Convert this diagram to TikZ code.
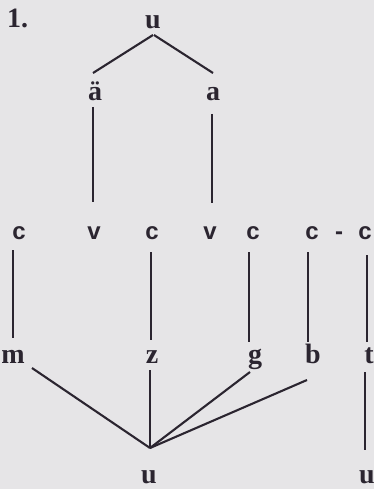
\documentclass[tikz,border=0pt]{standalone}
\usepackage{fontspec}
\setmainfont{Liberation Serif}
\newfontfamily\labsans{Liberation Sans}
\definecolor{paper}{HTML}{E6E5E7}
\definecolor{ink}{HTML}{2B2530}
\begin{document}
\begin{tikzpicture}[x=1pt,y=-1pt,
  ser/.style={anchor=base,inner sep=0pt,text=ink,font=\bfseries\fontsize{28}{30}\selectfont},
  sans/.style={anchor=base,inner sep=0pt,text=ink,font=\labsans\bfseries\fontsize{24}{26}\selectfont},
  link/.style={draw=ink,line width=2.1pt}]
\fill[paper] (0,0) rectangle (374,489);
\useasboundingbox (0,0) rectangle (374,489);
% labels
\node[ser,anchor=base west] (num) at (7,28) {1.};
\node[ser] (ut) at (153,29) {u};
\node[ser] (ae) at (95,101) {ä};
\node[ser] (a) at (213,101) {a};
\node[sans] (c1) at (19,239) {c};
\node[sans] (v1) at (94,239) {v};
\node[sans] (c2) at (152,239) {c};
\node[sans] (v2) at (210,239) {v};
\node[sans] (c3) at (253,239) {c};
\node[sans] (c4) at (312,239) {c};
\node[sans] (dash) at (339,239) {-};
\node[sans] (c5) at (365,239) {c};
\node[ser] (m) at (13,363) {m};
\node[ser] (z) at (152,363) {z};
\node[ser] (g) at (255,363) {g};
\node[ser] (b) at (313,363) {b};
\node[ser] (t) at (369,363) {t};
\node[ser] (ub) at (149,483) {u};
\node[ser] (u2) at (367,483) {u};
% connectors
\draw[link] ([shift={(0pt,-6pt)}]ut.base) -- ([shift={(-2pt,28pt)}]ae.base);
\draw[link] ([shift={(1pt,-6pt)}]ut.base) -- ([shift={(0pt,28pt)}]a.base);
\draw[link] ([shift={(-2pt,-6pt)}]ae.base) -- ([shift={(-1pt,37pt)}]v1.base);
\draw[link] ([shift={(-1pt,-13pt)}]a.base) -- ([shift={(2pt,36pt)}]v2.base);
\draw[link] ([shift={(-6pt,-11pt)}]c1.base) -- ([shift={(0pt,25pt)}]m.base);
\draw[link] ([shift={(-1pt,-13pt)}]c2.base) -- ([shift={(-1pt,23pt)}]z.base);
\draw[link] ([shift={(-4pt,-13pt)}]c3.base) -- ([shift={(-6pt,21pt)}]g.base);
\draw[link] ([shift={(-4pt,-13pt)}]c4.base) -- ([shift={(-5pt,21pt)}]b.base);
\draw[link] ([shift={(2pt,-16pt)}]c5.base) -- ([shift={(-2pt,21pt)}]t.base);
\draw[link] ([shift={(-4pt,-9pt)}]t.base) -- ([shift={(-2pt,33pt)}]u2.base);
\draw[link] ([shift={(19pt,-5pt)}]m.base) -- ([shift={(1pt,35pt)}]ub.base);
\draw[link] ([shift={(-2pt,-7pt)}]z.base) -- ([shift={(1pt,35pt)}]ub.base);
\draw[link] ([shift={(-5pt,-9pt)}]g.base) -- ([shift={(1pt,35pt)}]ub.base);
\draw[link] ([shift={(-6pt,-17pt)}]b.base) -- ([shift={(1pt,35pt)}]ub.base);
\end{tikzpicture}
\end{document}
